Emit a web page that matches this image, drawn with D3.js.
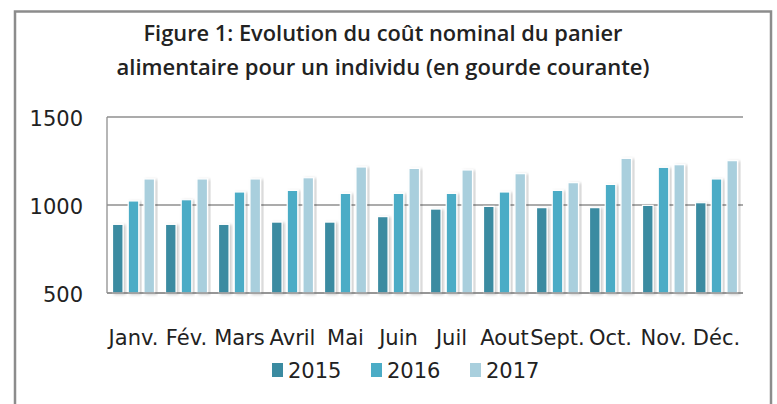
<!DOCTYPE html>
<html>
<head>
<meta charset="utf-8">
<script src="https://cdn.jsdelivr.net/npm/d3@7"></script>
<style>
  body { margin: 0; background: #fff; }
  svg text { font-family: "DejaVu Sans", sans-serif; fill: #222; }
</style>
</head>
<body>
<div id="chart"></div>
<script>
// Data
const months = ['Janv.', 'Fév.', 'Mars', 'Avril', 'Mai', 'Juin', 'Juil', 'Aout', 'Sept.', 'Oct.', 'Nov.', 'Déc.']
const years = ['2015', '2016', '2017']
const values2015 = [890, 890, 890, 903, 903, 934, 977, 992, 985, 985, 998, 1013]
const values2016 = [1023, 1030, 1074, 1083, 1066, 1066, 1066, 1074, 1083, 1117, 1214, 1148]
const values2017 = [1148, 1148, 1148, 1155, 1216, 1208, 1199, 1178, 1127, 1265, 1229, 1252]
const yTicks = [500, 1000, 1500]
const titleLines = ['Figure 1: Evolution du coût nominal du panier',
                    'alimentaire pour un individu (en gourde courante)']

const series = { '2015': values2015, '2016': values2016, '2017': values2017 }
const colors = { '2015': '#3b8ba1', '2016': '#4bacc6', '2017': '#a9cfdd' }

const dataset = months.map((m, i) => ({
    month: m,
    values: years.map(y => ({ year: y, value: series[y][i] }))
}))

// Dimension
const dimension = {
    width: 777,
    height: 404,
    margin: { top: 117, bottom: 111, left: 107, right: 34 }
}
dimension.ctrwidth = dimension.width - dimension.margin.left - dimension.margin.right
dimension.ctrheight = dimension.height - dimension.margin.top - dimension.margin.bottom

const svg = d3.select('#chart')
    .append('svg')
    .attr('width', dimension.width)
    .attr('height', dimension.height)

const defs = svg.append('defs')
const shadow = defs.append('filter')
    .attr('id', 'shadow')
    .attr('x', '-30%').attr('y', '-10%')
    .attr('width', '160%').attr('height', '120%')
shadow.append('feDropShadow')
    .attr('dx', 2).attr('dy', 1)
    .attr('stdDeviation', 1.5)
    .attr('flood-color', '#000')
    .attr('flood-opacity', 0.22)

// Outer frame
svg.append('rect')
    .attr('x', 15).attr('y', 11.5)
    .attr('width', 756).attr('height', 420)
    .attr('fill', 'none')
    .attr('stroke', '#8c8c8c')
    .attr('stroke-width', 2.5)

// Title
svg.append('g')
    .selectAll('text')
    .data(titleLines)
    .join('text')
    .attr('x', 383)
    .attr('y', (d, i) => 41 + i * 34)
    .attr('text-anchor', 'middle')
    .attr('textLength', (d, i) => i === 0 ? 479 : 533)
    .attr('lengthAdjust', 'spacingAndGlyphs')
    .style('font-family', '"Open Sans", sans-serif')
    .style('font-weight', 600)
    .style('font-size', '22px')
    .text(d => d)

const ctr = svg.append('g')
    .attr('transform', `translate(${dimension.margin.left}, ${dimension.margin.top})`)

// Scales
const x0 = d3.scaleBand()
    .domain(months)
    .range([0, dimension.ctrwidth])

const x1 = d3.scaleBand()
    .domain(years)
    .range([0, x0.bandwidth()])
    .paddingInner(0.33)
    .paddingOuter(0.35)

const yScale = d3.scaleLinear()
    .domain([500, 1500])
    .range([dimension.ctrheight, 0])

// Grid lines
ctr.append('g')
    .selectAll('line')
    .data(yTicks)
    .join('line')
    .attr('x1', 0)
    .attr('x2', dimension.ctrwidth)
    .attr('y1', d => yScale(d))
    .attr('y2', d => yScale(d))
    .attr('stroke', '#8f8f8f')
    .attr('stroke-width', 1.3)

ctr.append('line')
    .attr('x1', 0).attr('x2', 0)
    .attr('y1', 0).attr('y2', dimension.ctrheight)
    .attr('stroke', '#8f8f8f')
    .attr('stroke-width', 1.3)

// Bars
const groups = ctr.append('g')
    .selectAll('g')
    .data(dataset)
    .join('g')
    .attr('transform', d => `translate(${x0(d.month)}, 0)`)

groups.selectAll('rect')
    .data(d => d.values)
    .join('rect')
    .attr('x', d => x1(d.year))
    .attr('y', d => yScale(d.value))
    .attr('width', x1.bandwidth())
    .attr('height', d => dimension.ctrheight - yScale(d.value))
    .attr('fill', d => colors[d.year])
    .attr('stroke', '#fff')
    .attr('stroke-width', 1.2)
    .attr('filter', 'url(#shadow)')

// Bottom axis line drawn over bars
ctr.append('line')
    .attr('x1', 0).attr('x2', dimension.ctrwidth)
    .attr('y1', dimension.ctrheight).attr('y2', dimension.ctrheight)
    .attr('stroke', '#8f8f8f')
    .attr('stroke-width', 1.3)

// Y axis labels
const yAxis = d3.axisLeft(yScale)
    .tickValues(yTicks)
    .tickFormat(d3.format('d'))
    .tickSize(0)
    .tickPadding(24)

const yAxisGroup = ctr.append('g').call(yAxis)
yAxisGroup.select('.domain').remove()
yAxisGroup.selectAll('text')
    .style('font-family', '"DejaVu Sans", sans-serif')
    .style('font-size', '21px')
    .attr('fill', '#222')
    .attr('dy', '0.42em')

// X axis labels
const xAxis = d3.axisBottom(x0).tickSize(0).tickPadding(0)
const xAxisGroup = ctr.append('g')
    .attr('transform', `translate(0, ${dimension.ctrheight})`)
    .call(xAxis)
xAxisGroup.select('.domain').remove()
xAxisGroup.selectAll('text')
    .style('font-family', '"DejaVu Sans", sans-serif')
    .style('font-size', '21px')
    .attr('fill', '#222')
    .attr('dy', null)
    .attr('y', 52)

// Legend
const legend = svg.append('g')
    .selectAll('g')
    .data(years)
    .join('g')
    .attr('transform', (d, i) => `translate(${272 + i * 99}, 363)`)

legend.append('rect')
    .attr('width', 11)
    .attr('height', 14)
    .attr('fill', d => colors[d])

legend.append('text')
    .attr('x', 16)
    .attr('y', 15)
    .style('font-size', '21px')
    .text(d => d)
</script>
</body>
</html>
